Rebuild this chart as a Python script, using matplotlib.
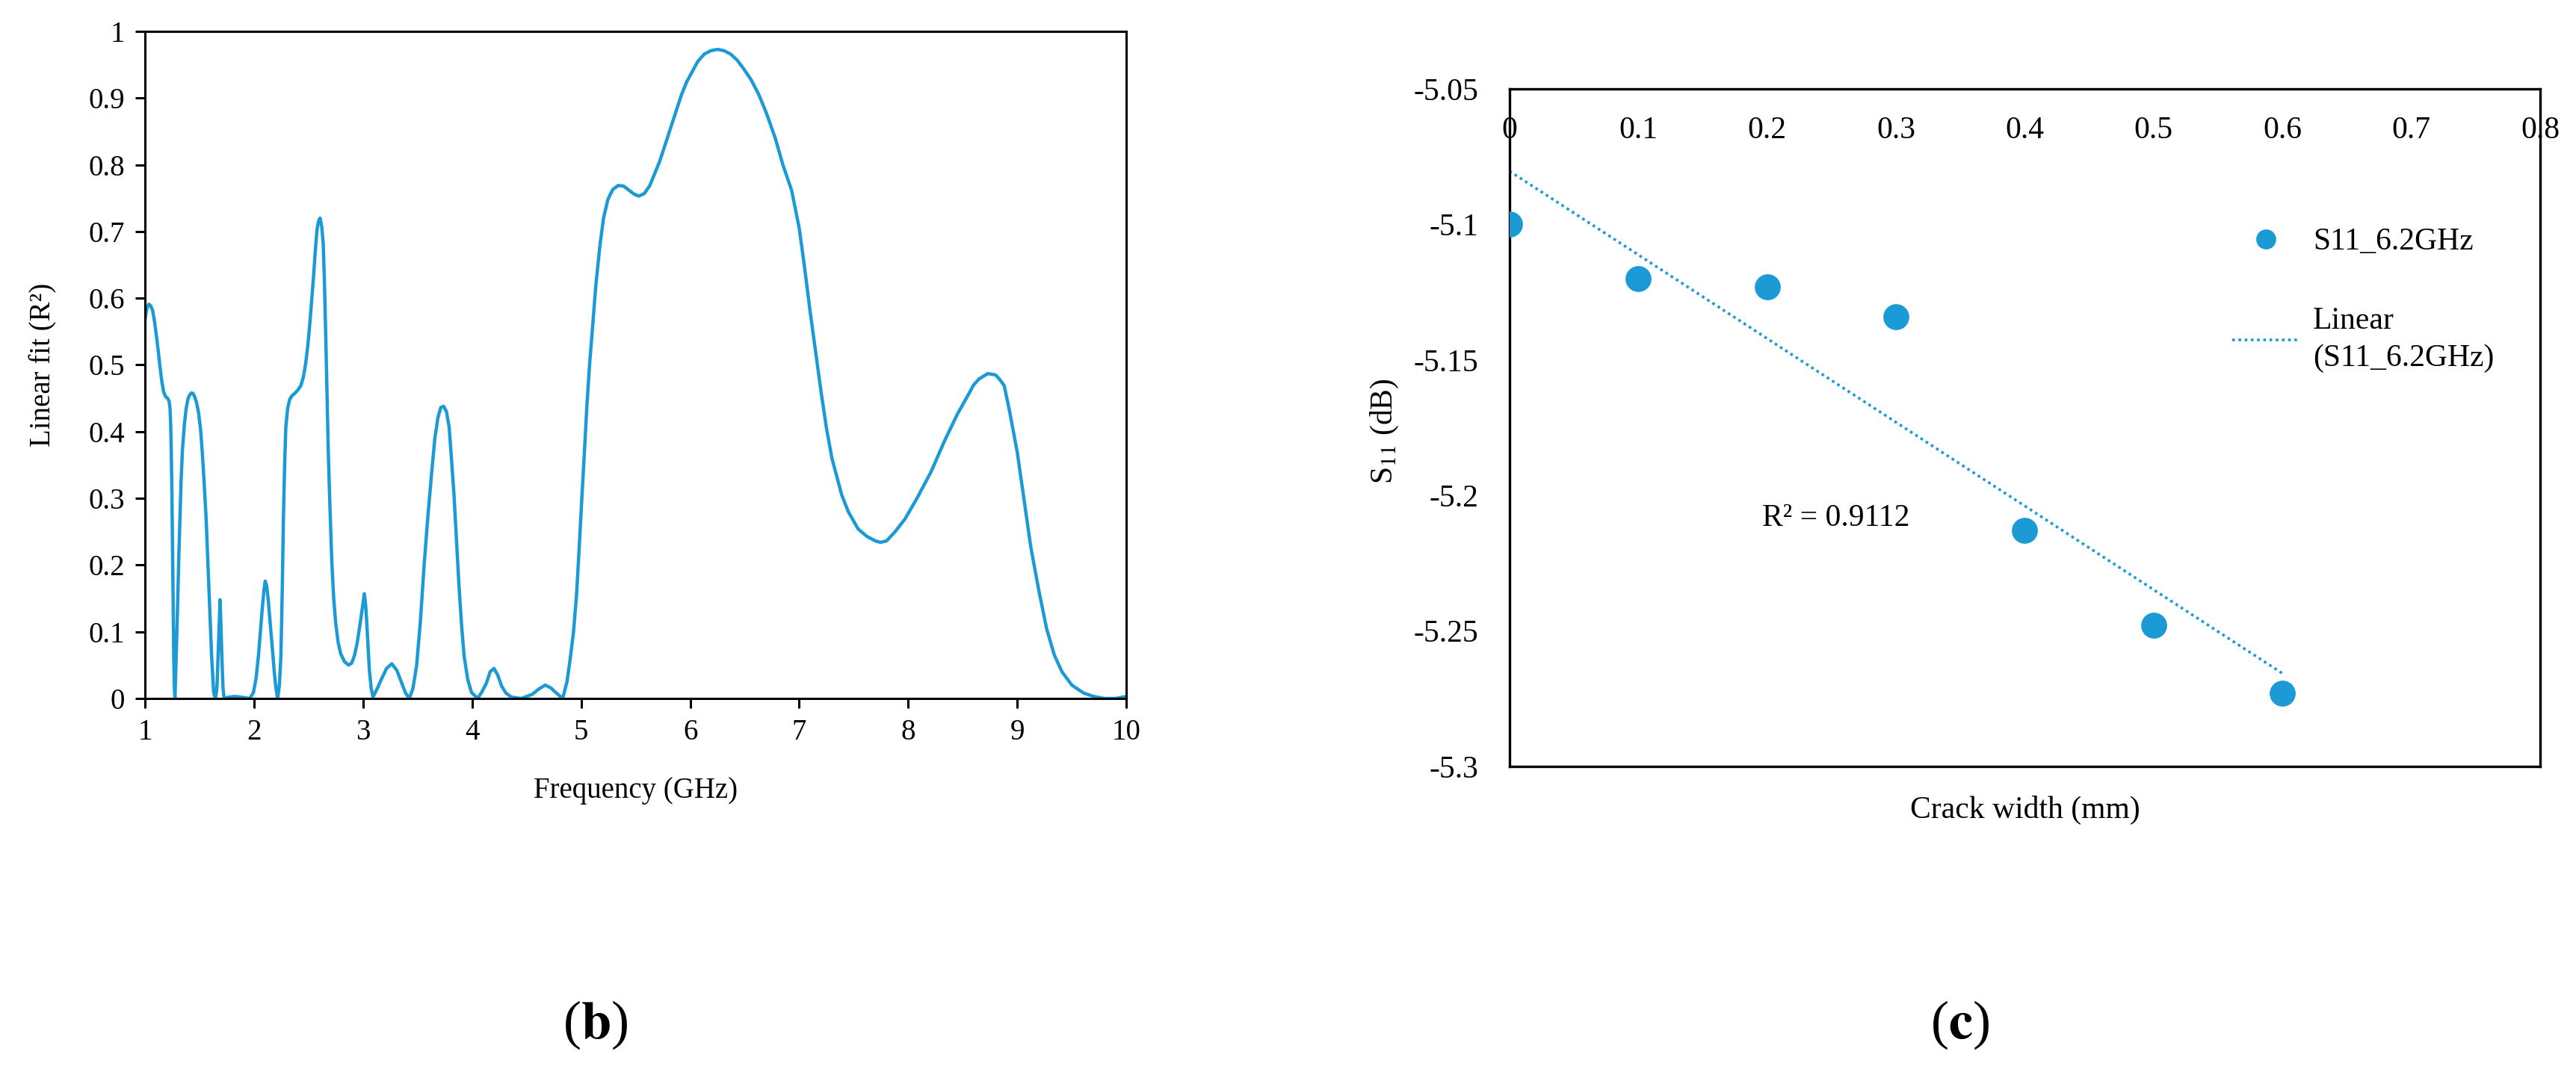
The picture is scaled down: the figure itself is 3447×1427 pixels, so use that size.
import numpy as np
import matplotlib
matplotlib.use("Agg")
from matplotlib import pyplot as plt

plt.rcParams['font.family'] = ['Liberation Serif', 'DejaVu Serif']
plt.rcParams['mathtext.fontset'] = 'stix'
plt.rcParams['axes.unicode_minus'] = False

BLUE = '#1b9ad6'

# (b) linear fit R^2 vs frequency
freq = [1.00, 1.017, 1.034, 1.05, 1.069, 1.086, 1.103, 1.12, 1.137, 1.154, 1.171, 1.19, 1.206,
        1.22, 1.229, 1.235, 1.24, 1.246, 1.251, 1.257, 1.263, 1.268, 1.274,
        1.285, 1.30, 1.31, 1.32, 1.33, 1.343, 1.36, 1.377, 1.395, 1.41, 1.425, 1.441, 1.455,
        1.47, 1.491, 1.51, 1.526, 1.543, 1.56, 1.577, 1.594, 1.61, 1.629, 1.645,
        1.655, 1.66, 1.67, 1.68, 1.688, 1.696, 1.704, 1.715, 1.725, 1.77, 1.823, 1.88, 1.96,
        1.994, 2.018, 2.04, 2.058, 2.074, 2.09, 2.102, 2.116, 2.131, 2.148, 2.166, 2.184, 2.2, 2.216,
        2.232, 2.246, 2.258, 2.269, 2.28, 2.291, 2.308, 2.326, 2.348, 2.371, 2.4, 2.429, 2.452,
        2.474, 2.492, 2.509, 2.526, 2.543, 2.56, 2.577, 2.592, 2.605, 2.62,
        2.634, 2.645, 2.657, 2.668, 2.68, 2.697, 2.714, 2.73, 2.749, 2.77, 2.794, 2.83, 2.867,
        2.895, 2.92, 2.944, 2.966, 2.99, 3.011, 3.023, 3.034, 3.046, 3.057, 3.074, 3.091,
        3.13, 3.171, 3.215, 3.263, 3.31, 3.354, 3.39, 3.423,
        3.457, 3.491, 3.525, 3.56, 3.595, 3.629, 3.658, 3.686, 3.712, 3.738, 3.764, 3.789,
        3.81, 3.834, 3.857, 3.88, 3.903, 3.926, 3.96, 3.994, 4.051,
        4.09, 4.131, 4.165, 4.2, 4.235, 4.269, 4.31, 4.36, 4.45, 4.55, 4.61, 4.67, 4.72, 4.76, 4.83,
        4.87, 4.9, 4.93, 4.957, 4.98, 5.005, 5.03, 5.053, 5.077, 5.1, 5.135, 5.17, 5.205, 5.245,
        5.29, 5.34, 5.39, 5.437, 5.485, 5.53, 5.58, 5.63, 5.67, 5.72, 5.77, 5.82, 5.87,
        5.92, 5.97, 6.02, 6.07, 6.13, 6.19, 6.25, 6.31, 6.37, 6.43, 6.49, 6.56, 6.63, 6.70,
        6.78, 6.85, 6.93, 7.0, 7.05, 7.1, 7.15, 7.2, 7.25, 7.3, 7.39, 7.45, 7.54, 7.62, 7.7,
        7.745, 7.8, 7.88, 7.97, 8.08, 8.21, 8.33, 8.45, 8.55, 8.6, 8.65, 8.73, 8.80, 8.84, 8.88,
        8.93, 9.0, 9.06, 9.125, 9.2, 9.27, 9.34, 9.41, 9.5, 9.61, 9.7, 9.8, 9.9, 10.0]
r2 = [0.569, 0.585, 0.591, 0.589, 0.582, 0.566, 0.545, 0.522, 0.497, 0.475, 0.459, 0.452, 0.450,
      0.446, 0.435, 0.41, 0.373, 0.31, 0.236, 0.15, 0.064, 0.02, 0.0,
      0.06, 0.15, 0.215, 0.27, 0.325, 0.373, 0.41, 0.435, 0.45, 0.455, 0.458, 0.457, 0.452,
      0.445, 0.428, 0.402, 0.366, 0.32, 0.27, 0.2, 0.133, 0.065, 0.009, 0.0,
      0.01, 0.02, 0.064, 0.11, 0.148, 0.11, 0.064, 0.015, 0.0, 0.002, 0.003, 0.002, 0.0,
      0.009, 0.03, 0.064, 0.1, 0.133, 0.162, 0.176, 0.168, 0.146, 0.112, 0.078, 0.042, 0.016, 0.0,
      0.02, 0.064, 0.16, 0.27, 0.35, 0.407, 0.435, 0.448, 0.454, 0.457, 0.462, 0.469, 0.482,
      0.503, 0.528, 0.558, 0.592, 0.627, 0.668, 0.703, 0.716, 0.72, 0.708,
      0.682, 0.625, 0.545, 0.46, 0.373, 0.28, 0.201, 0.15, 0.112, 0.085, 0.067, 0.055, 0.05,
      0.053, 0.064, 0.082, 0.105, 0.132, 0.157, 0.14, 0.112, 0.075, 0.043, 0.015, 0.002,
      0.015, 0.03, 0.045, 0.052, 0.042, 0.023, 0.008, 0.0,
      0.015, 0.05, 0.115, 0.201, 0.275, 0.339, 0.39, 0.421, 0.436, 0.438, 0.43, 0.407,
      0.36, 0.304, 0.235, 0.167, 0.11, 0.064, 0.028, 0.009, 0.0,
      0.01, 0.023, 0.04, 0.045, 0.035, 0.019, 0.008, 0.002, 0.0, 0.006, 0.014, 0.02, 0.016, 0.01, 0.0,
      0.025, 0.06, 0.1, 0.154, 0.22, 0.297, 0.37, 0.44, 0.5, 0.548, 0.62, 0.676, 0.72, 0.748,
      0.763, 0.769, 0.768, 0.762, 0.756, 0.753, 0.757, 0.769, 0.785, 0.805, 0.83, 0.855, 0.88,
      0.905, 0.925, 0.94, 0.955, 0.966, 0.971, 0.973, 0.971, 0.966, 0.957, 0.944, 0.927, 0.905, 0.877,
      0.84, 0.80, 0.762, 0.705, 0.645, 0.58, 0.52, 0.46, 0.405, 0.36, 0.305, 0.28, 0.254, 0.243, 0.236,
      0.234, 0.236, 0.25, 0.269, 0.3, 0.34, 0.385, 0.426, 0.455, 0.47, 0.479, 0.487, 0.485, 0.478, 0.469,
      0.43, 0.369, 0.3, 0.226, 0.16, 0.104, 0.065, 0.04, 0.02, 0.008, 0.003, 0.0, 0.0, 0.003]

# (c) S11 at 6.2 GHz vs crack width
crack_mm = [0.0, 0.1, 0.2, 0.3, 0.4, 0.5, 0.6]
s11_db = [-5.100, -5.120, -5.123, -5.134, -5.213, -5.248, -5.273]
r2_text = 'R² = 0.9112'

fig = plt.figure(figsize=(17.24, 7.135), dpi=200)

# ---- (b)
ax1 = fig.add_axes([0.0563, 0.3448, 0.3808, 0.6258])
ax1.plot(freq, r2, color=BLUE, lw=1.6, solid_joinstyle='round')
ax1.set_xlim(1, 10)
ax1.set_ylim(0, 1)
ax1.set_xticks(range(1, 11))
ax1.set_yticks(np.arange(0, 1.01, 0.1))
ax1.set_yticklabels(['0', '0.1', '0.2', '0.3', '0.4', '0.5', '0.6', '0.7', '0.8', '0.9', '1'])
for s in ax1.spines.values():
    s.set_linewidth(1.1)
ax1.tick_params(direction='out', length=4.7, width=1.1, labelsize=14, pad=5)
ax1.set_xlabel('Frequency (GHz)', fontsize=14, va='center')
ax1.xaxis.set_label_coords(0.5, -0.138)
ax1.set_ylabel('Linear fit (R²)', fontsize=14, va='center')
ax1.yaxis.set_label_coords(-0.104, 0.5)

# ---- (c)
ax2 = fig.add_axes([0.5858, 0.2810, 0.4000, 0.6356])
ax2.plot(crack_mm, s11_db, 'o', color=BLUE, ms=11.5, label='S11_6.2GHz', zorder=3)
k, b = np.polyfit(crack_mm, s11_db, 1)
xs = np.array([crack_mm[0], crack_mm[-1]])
ax2.plot(xs, k * xs + b, color=BLUE, lw=1.3, ls=(0, (1, 1.3)), label='Linear\n(S11_6.2GHz)')
ax2.set_xlim(0, 0.8)
ax2.set_ylim(-5.3, -5.05)
ax2.set_xticks(np.arange(0, 0.81, 0.1))
ax2.set_xticklabels(['0', '0.1', '0.2', '0.3', '0.4', '0.5', '0.6', '0.7', '0.8'])
ax2.set_yticks([-5.3, -5.25, -5.2, -5.15, -5.1, -5.05])
ax2.set_yticklabels(['-5.3', '-5.25', '-5.2', '-5.15', '-5.1', '-5.05'])
ax2.xaxis.set_ticks_position('top')
ax2.tick_params(axis='x', length=0, labelsize=15, pad=-27)
ax2.tick_params(axis='y', length=0, labelsize=15, pad=15)
for s in ax2.spines.values():
    s.set_linewidth(1.2)
ax2.set_xlabel('Crack width (mm)', fontsize=15, va='center')
ax2.xaxis.set_label_position('bottom')
ax2.xaxis.set_label_coords(0.5, -0.043)
ax2.set_ylabel('S$_{11}$ (dB)', fontsize=15, va='center')
ax2.yaxis.set_label_coords(-0.121, 0.495)
ax2.text(0.196, -5.2085, r2_text, fontsize=15, va='center', ha='left')
leg = ax2.legend(loc='upper left', bbox_to_anchor=(0.701, 0.795), frameon=False, fontsize=15,
                 borderpad=0, borderaxespad=0, handlelength=2.2, handletextpad=0.4,
                 labelspacing=1.6, markerscale=0.75)
leg.get_texts()[1].set_linespacing(1.4)

fig.text(0.2309, 0.0385, r'($\mathbf{b}$)', fontsize=26, ha='center', va='center')
fig.text(0.7607, 0.0385, r'($\mathbf{c}$)', fontsize=26, ha='center', va='center')

fig.savefig('out.png', dpi=200)
